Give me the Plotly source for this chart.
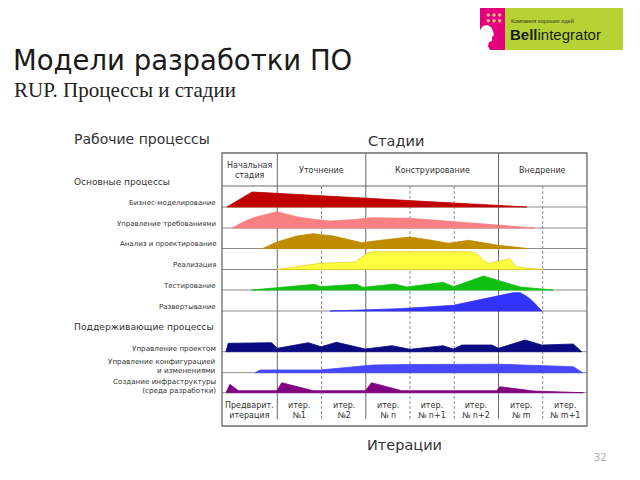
import plotly.graph_objects as go

# ---------------- data ----------------
# x positions in iteration-column units (0 = left edge of grid, 1.25 = end of preliminary iteration, +1 per iteration)
# heights in relative effort units
biz_x = [0.11, 0.68, 6.89]
biz_h = [0, 15, 0]

req_x = [0.23, 0.48, 0.71, 0.93, 1.24, 1.69, 2.06, 2.44, 3.01, 3.38, 4.25, 7.08]
req_h = [0, 6, 10.3, 13, 16.3, 11.3, 8.7, 7, 8.5, 10.3, 9.7, 0]

ana_x = [0.92, 1.24, 1.69, 2.06, 2.52, 2.97, 3.16, 3.72, 4.02, 4.25, 4.70, 5.12, 5.57, 6.28, 6.92]
ana_h = [0, 6.5, 12.5, 14.8, 12.5, 8.2, 5.8, 9, 10.5, 11.5, 8.5, 5.2, 8.2, 3, 0]

imp_x = [1.24, 2.22, 3.01, 3.16, 3.27, 3.41, 5.64, 5.79, 5.90, 6.03, 6.40, 6.51, 6.62, 6.85, 7.26]
imp_h = [0, 6.2, 7.5, 12, 16, 17.8, 17.8, 15, 9, 6.2, 9.5, 10.8, 3.5, 1.5, 0]

tst_x = [0.67, 2.10, 2.22, 3.04, 3.19, 3.91, 4.17, 5.00, 5.23, 5.91, 6.74, 7.48]
tst_h = [0, 5.7, 3.3, 5.7, 2.7, 6, 3, 7.7, 3.3, 14, 3, 0]

dep_x = [2.44, 4.02, 5.23, 6.58, 6.74, 6.89, 7.03, 7.12, 7.23]
dep_h = [0, 2.3, 5.7, 18.3, 18.3, 14.5, 9.5, 5.5, 0]

pm_x = [0.09, 0.14, 1.12, 1.25, 1.95, 2.24, 2.59, 3.24, 3.84, 4.25, 5.00, 5.23, 5.42, 6.10, 6.25, 6.85, 7.23, 7.94, 8.13]
pm_h = [0, 8.4, 9, 3.4, 9, 5, 9.4, 2.7, 6, 2.4, 6, 2.7, 6.7, 6.7, 3.4, 11.7, 6.7, 7.7, 0]

cfg_x = [0.75, 0.86, 2.22, 3.41, 4.25, 6.24, 7.94, 8.15]
cfg_h = [0, 2.7, 2.7, 7.7, 8.2, 8.5, 6, 0]

inf_x = [0.09, 0.18, 0.37, 1.24, 1.35, 2.06, 3.24, 3.38, 4.06, 6.21, 6.28, 7.04, 8.17]
inf_h = [0, 8.4, 2, 2, 10, 2, 2, 10, 2, 2, 6, 1.7, 0]

core_labels = ["Бизнес-моделирование", "Управление требованиями", "Анализ и проектирование",
               "Реализация", "Тестирование", "Развертывание"]
support_labels = ["Управление проектом", "Управление конфигурацией<br>и изменениями",
                  "Создание инфраструктуры<br>(среда разработки)"]
stage_labels = ["Начальная<br>стадия", "Уточнение", "Конструирование", "Внедрение"]
iter_labels = ["Предварит.<br>итерация", "итер.<br>№1", "итер.<br>№2", "итер.<br>№ n",
               "итер.<br>№ n+1", "итер.<br>№ n+2", "итер.<br>№ m", "итер.<br>№ m+1"]

# ---------------- layout constants ----------------
W, H = 640, 480
X0, PX = 222.0, 44.24          # pixel of grid left edge, pixels per iteration unit
def u(px):
    return (px - X0) / PX

stage_bounds = [0, 1.25, 3.25, 6.25, 8.25]
iter_bounds = [0, 1.25, 2.25, 3.25, 4.25, 5.25, 6.25, 7.25, 8.25]
solid_idx = {0, 1, 3, 6, 8}

core_base = [207, 228, 248.5, 269.5, 290, 311]
supp_base = [351.7, 372.7, 392.7]
GRID_TOP, HEAD_BOT, GRID_BOT = 153, 186, 426

colors = ["#c00000", "#f88080", "#c08c00", "#ffff40", "#10c010", "#3333ff",
          "#0a0a80", "#4646ff", "#800080"]
series = [(biz_x, biz_h), (req_x, req_h), (ana_x, ana_h), (imp_x, imp_h), (tst_x, tst_h),
          (dep_x, dep_h), (pm_x, pm_h), (cfg_x, cfg_h), (inf_x, inf_h)]
bases = core_base + supp_base

fig = go.Figure()
for (xs, hs), base, col in zip(series, bases, colors):
    px_ = list(xs) + [xs[-1], xs[0]]
    py_ = [base - h for h in hs] + [base, base]
    lc = "#e0d020" if col == "#ffff40" else col
    fig.add_trace(go.Scatter(x=px_, y=py_, fill="toself", fillcolor=col, mode="lines",
                             line=dict(color=lc, width=0.8), hoverinfo="skip", showlegend=False))

shapes = []
GRID = "#8c8c8c"
BORDER = "#6a6a6a"
# horizontal baselines
for b in bases:
    shapes.append(dict(type="line", xref="x", yref="y", x0=0, x1=8.25, y0=b, y1=b,
                       line=dict(color=GRID, width=1), layer="below"))
shapes.append(dict(type="line", xref="x", yref="y", x0=0, x1=8.25, y0=HEAD_BOT, y1=HEAD_BOT,
                   line=dict(color=BORDER, width=1), layer="below"))
# outer box
shapes.append(dict(type="rect", xref="x", yref="y", x0=0, x1=8.25, y0=GRID_TOP, y1=GRID_BOT,
                   line=dict(color=BORDER, width=1.3), layer="below"))
# vertical lines
for i, xb in enumerate(iter_bounds[1:-1], start=1):
    if i in solid_idx:
        shapes.append(dict(type="line", xref="x", yref="y", x0=xb, x1=xb, y0=GRID_TOP, y1=419,
                           line=dict(color=BORDER, width=1), layer="below"))
    else:
        shapes.append(dict(type="line", xref="x", yref="y", x0=xb, x1=xb, y0=HEAD_BOT, y1=419,
                           line=dict(color=GRID, width=1, dash="3px,2px"), layer="below"))

# logo
def pxp(x, y):
    return x / W, 1 - y / H
lx0, ly0 = pxp(480, 8); lx1, ly1 = pxp(505, 50); lx2, _ = pxp(623, 50)
shapes.append(dict(type="rect", xref="paper", yref="paper", x0=lx0, x1=lx1, y0=ly1, y1=ly0,
                   fillcolor="#e4007c", line=dict(width=0)))
shapes.append(dict(type="rect", xref="paper", yref="paper", x0=lx1, x1=lx2, y0=ly1, y1=ly0,
                   fillcolor="#b5d334", line=dict(width=0)))
for dx in (488.3, 494, 499.7):
    for dy in (15, 20.7):
        a, b_ = pxp(dx - 1.8, dy - 1.8); c, d = pxp(dx + 1.8, dy + 1.8)
        shapes.append(dict(type="circle", xref="paper", yref="paper", x0=a, x1=c, y0=d, y1=b_,
                           fillcolor="#f6b48a", line=dict(width=0)))
# head silhouette (white), path in paper coords
head_pts = [(480, 50), (480, 30), (483, 26), (487, 25), (491, 27), (493, 31), (494, 35),
            (492, 37), (492, 41), (489, 42), (488, 46), (490, 50)]
path = "M " + " L ".join(f"{x / W:.5f},{1 - y / H:.5f}" for x, y in head_pts) + " Z"
shapes.append(dict(type="path", xref="paper", yref="paper", path=path,
                   fillcolor="#ffffff", line=dict(width=0)))

ann = []
def text(x, y, s, size, color="#333333", xanchor="left", family="DejaVu Sans", xref="x"):
    ann.append(dict(x=x, y=y, xref=xref, yref="y", text=s, showarrow=False, xanchor=xanchor,
                    yanchor="middle", align="center" if xanchor == "center" else xanchor,
                    font=dict(size=size, color=color, family=family)))

# titles
text(u(11), 60, "Модели разработки ПО", 27.5, "#1a1a1a")
text(u(12), 90, "RUP. Процессы и стадии", 21, "#222222", family="Liberation Serif")
text(u(592), 457, "32", 10, "#b0b0b0")

# logo texts
text(u(509), 21, "Компания хороших идей", 5.5, "#333333", family="Liberation Sans")
text(u(508), 34, "<b>Bell</b>integrator", 15, "#1a1a1a", family="Liberation Sans")

text(u(72), 139, "Рабочие процессы", 14)
text(u(72), 182, "Основные процессы", 9)
text(u(72), 326, "Поддерживающие процессы", 9.2)
text(u(365.5), 141, "Стадии", 14.5)
text(u(365), 445, "Итерации", 14.5)

for lab, b in zip(core_labels, core_base):
    text(u(218), b - 4.5, lab, 7, xanchor="right")
for lab, y in zip(support_labels, [348, 365.5, 385.5]):
    text(u(218), y, lab, 7.2, xanchor="right")

for i, lab in enumerate(stage_labels):
    cx = (stage_bounds[i] + stage_bounds[i + 1]) / 2
    text(cx, 170, lab, 8, xanchor="center")
for i, lab in enumerate(iter_labels):
    cx = (iter_bounds[i] + iter_bounds[i + 1]) / 2
    text(cx, 410.5, lab, 8, xanchor="center")

fig.update_layout(
    width=W, height=H, margin=dict(l=0, r=0, t=0, b=0),
    paper_bgcolor="white", plot_bgcolor="white",
    xaxis=dict(range=[u(0), u(W)], domain=[0, 1], visible=False, fixedrange=True),
    yaxis=dict(range=[H, 0], domain=[0, 1], visible=False, fixedrange=True),
    shapes=shapes, annotations=ann, showlegend=False,
)
fig.write_html("out.html")
